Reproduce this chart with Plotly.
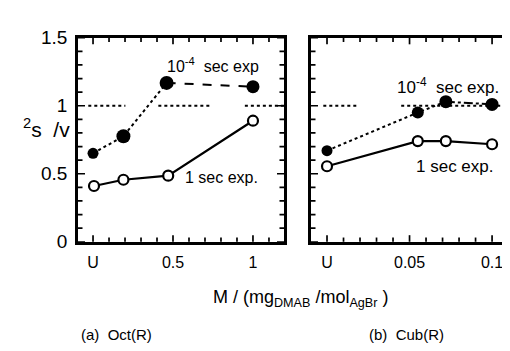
import numpy as np
import plotly.graph_objects as go

# Panel (a) Oct(R)
a_fill_x = [0.0, 0.19, 0.46, 1.0]
a_fill_y = [0.65, 0.776, 1.168, 1.14]
a_open_x = [0.006, 0.19, 0.47, 1.0]
a_open_y = [0.41, 0.456, 0.486, 0.89]
# Panel (b) Cub(R)
b_fill_x = [0.0, 0.055, 0.072, 0.1]
b_fill_y = [0.67, 0.95, 1.03, 1.01]
b_open_x = [0.0, 0.055, 0.072, 0.1]
b_open_y = [0.555, 0.74, 0.74, 0.717]

# tick labels: the scanned "0" reads as "U"
a_tickvals = [0, 0.5, 1]
a_ticktext = ["U", "0.5", "1"]
b_tickvals = [0, 0.05, 0.1]
b_ticktext = ["U", "0.05", "0.1"]
y_tickvals = [0, 0.5, 1, 1.5]
y_ticktext = ["0", "0.5", "1", "1.5"]
a_minor_step, b_minor_step, y_minor_step = 0.1, 0.01, 0.1

a_range = [-0.094, 1.194]
b_range = [-0.0097, 0.1145]
y_range = [0, 1.5]

W, H = 510, 351
def px(v): return v / W
def py(v): return 1 - v / H

FONT = "Liberation Sans, Arial, sans-serif"
fig = go.Figure()

def add_panel(xa, ya, fx, fy, ox, oy, last_dash, fsizes):
    fig.add_trace(go.Scatter(x=fx[:3], y=fy[:3], mode="lines", xaxis=xa, yaxis=ya,
                             line=dict(color="black", width=2, dash="dot"), showlegend=False))
    fig.add_trace(go.Scatter(x=fx[2:], y=fy[2:], mode="lines", xaxis=xa, yaxis=ya,
                             line=dict(color="black", width=2, dash=last_dash), showlegend=False))
    fig.add_trace(go.Scatter(x=fx, y=fy, mode="markers", xaxis=xa, yaxis=ya,
                             marker=dict(color="#000000", size=fsizes, opacity=1,
                                         line=dict(width=0)),
                             showlegend=False))
    fig.add_trace(go.Scatter(x=ox, y=oy, mode="lines+markers", xaxis=xa, yaxis=ya,
                             line=dict(color="black", width=2.2),
                             marker=dict(color="white", size=10, symbol="circle", opacity=1,
                                         line=dict(color="black", width=2.2)),
                             showlegend=False))

add_panel("x", "y", a_fill_x, a_fill_y, a_open_x, a_open_y, "dash", [11, 14, 14, 13])
add_panel("x2", "y2", b_fill_x, b_fill_y, b_open_x, b_open_y, "dashdot", [11, 12, 13, 13])

# inside tick marks drawn as short shapes on the frame edges
def tick_values(rng, step):
    v = np.round(np.arange(0, rng[1] + 1e-9, step), 6)
    return [float(t) for t in v if t >= rng[0]]

def is_major(t, majors):
    return any(abs(t - m) < 1e-9 for m in majors)

def add_ticks(xa, ya, xr, xstep, xmajor, yr, ystep, ymajor, sides, pw, ph):
    tick = dict(color="black", width=1.7)
    for side in sides:
        if side in ("bottom", "top"):
            for t in tick_values(xr, xstep):
                L = (7 if is_major(t, xmajor) else 4.5) / ph
                y0, y1 = (0, L) if side == "bottom" else (1, 1 - L)
                fig.add_shape(type="line", xref=xa, yref=ya + " domain", x0=t, x1=t,
                              y0=y0, y1=y1, line=tick)
        else:
            for t in tick_values(yr, ystep):
                L = (7 if is_major(t, ymajor) else 4.5) / pw
                x0, x1 = (0, L) if side == "left" else (1, 1 - L)
                fig.add_shape(type="line", xref=xa + " domain", yref=ya, x0=x0, x1=x1,
                              y0=t, y1=t, line=tick)

add_ticks("x", "y", a_range, a_minor_step, a_tickvals, y_range, y_minor_step, y_tickvals,
          ["bottom", "top", "left", "right"], 206, 217)
add_ticks("x2", "y2", b_range, b_minor_step, b_tickvals, y_range, y_minor_step, y_tickvals,
          ["bottom", "top", "left"], 205, 217)

axis_common = dict(showline=True, linecolor="black", linewidth=2.5, ticks="",
                   showgrid=False, zeroline=False, fixedrange=True)

fig.update_layout(
    width=W, height=H, margin=dict(l=0, r=0, t=0, b=0),
    plot_bgcolor="white", paper_bgcolor="white",
    font=dict(family=FONT, color="black"),
    xaxis=dict(domain=[px(70), px(276)], range=a_range, tickvals=a_tickvals,
               ticktext=a_ticktext, mirror=True, tickfont=dict(size=16),
               ticklabelstandoff=4, anchor="y", **axis_common),
    yaxis=dict(domain=[py(238), py(21)], range=y_range, tickvals=y_tickvals,
               ticktext=y_ticktext, mirror=True, tickfont=dict(size=19),
               ticklabelstandoff=4, anchor="x", **axis_common),
    xaxis2=dict(domain=[px(303), px(508)], range=b_range, tickvals=b_tickvals,
                ticktext=b_ticktext, mirror=True, tickfont=dict(size=16),
                ticklabelstandoff=4, anchor="y2", **axis_common),
    yaxis2=dict(domain=[py(238), py(21)], range=y_range, tickvals=y_tickvals,
                showticklabels=False, mirror=False, anchor="x2", **axis_common),
)

# faint right border of panel (b)
fig.add_shape(type="line", xref="x2 domain", yref="y2 domain", x0=1, x1=1, y0=0, y1=1,
              line=dict(color="#bbbbbb", width=1.2))

# reference dotted line at 1 (broken as in the original)
for x0, x1 in [(0.05, 0.23), (0.39, 0.64), (0.81, 1.0)]:
    fig.add_shape(type="line", xref="x domain", yref="y", x0=x0, x1=x1, y0=1, y1=1,
                  line=dict(color="black", width=2, dash="dot"))
for x0, x1 in [(0.06, 0.23), (0.44, 1.0)]:
    fig.add_shape(type="line", xref="x2 domain", yref="y2", x0=x0, x1=x1, y0=1, y1=1,
                  line=dict(color="black", width=2, dash="dot"))

ann = []
ann.append(dict(x=0.45, y=1.30, xref="x", yref="y", xanchor="left", yanchor="middle",
                text="10<sup>-4</sup>  sec exp", showarrow=False, font=dict(size=16)))
ann.append(dict(x=0.565, y=0.47, xref="x", yref="y", xanchor="left", yanchor="middle",
                text="1 sec exp.", showarrow=False, font=dict(size=16)))
ann.append(dict(x=0.041, y=1.147, xref="x2", yref="y2", xanchor="left", yanchor="middle",
                text="10<sup>-4</sup>  sec exp.", showarrow=False, font=dict(size=17)))
ann.append(dict(x=0.053, y=0.553, xref="x2", yref="y2", xanchor="left", yanchor="middle",
                text="1 sec exp.", showarrow=False, font=dict(size=17)))
ann.append(dict(x=px(13), y=py(117), xref="paper", yref="paper", xanchor="left", yanchor="middle",
                text="<sup>2</sup>s  /v", showarrow=False, font=dict(size=21)))
ann.append(dict(x=px(292), y=py(298), xref="paper", yref="paper", xanchor="center", yanchor="middle",
                text="M / (mg<sub>DMAB</sub> /mol<sub>AgBr</sub> )", showarrow=False, font=dict(size=18)))
ann.append(dict(x=px(108), y=py(337), xref="paper", yref="paper", xanchor="center", yanchor="middle",
                text="(a)  Oct(R)", showarrow=False, font=dict(size=15)))
ann.append(dict(x=px(398), y=py(337), xref="paper", yref="paper", xanchor="center", yanchor="middle",
                text="(b)  Cub(R)", showarrow=False, font=dict(size=15)))
fig.update_layout(annotations=ann)

fig.write_html("out.html")
